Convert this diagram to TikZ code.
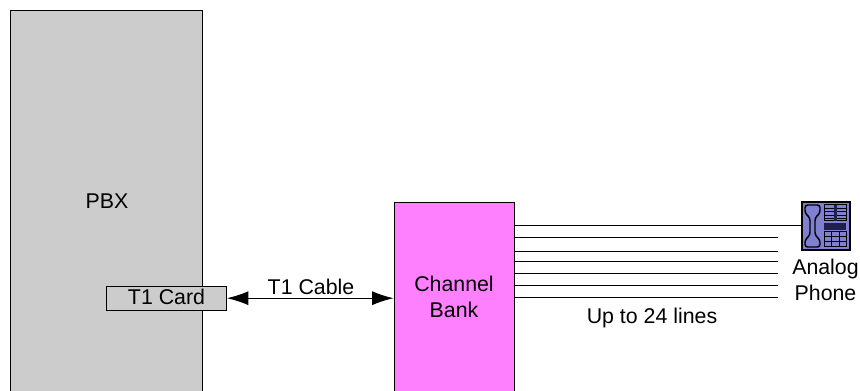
\documentclass[tikz,border=0pt]{standalone}
\usepackage{tikz}
\usepackage{xcolor}
\usepackage{fontspec}
\setmainfont{Liberation Sans}
\usetikzlibrary{arrows.meta}
\definecolor{pbxgray}{HTML}{CCCCCC}
\definecolor{bankpink}{HTML}{FF80FF}
\definecolor{phoneblue}{HTML}{8080D0}
\definecolor{banddark}{HTML}{202050}
\tikzset{
    box/.style={draw, line width=0.75pt, inner sep=0pt},
    label/.style={font=\fontsize{16}{19}\selectfont, inner sep=0pt, align=center},
    wire/.style={line width=0.75pt},
    keys/.style={line width=0.75pt}
}

\begin{document}
\begin{tikzpicture}[x=0.75pt, y=-0.75pt]
    \useasboundingbox (0,0) rectangle (860,391);
    \clip (0,0) rectangle (860,391);

    % PBX
    \node[box, fill=pbxgray, minimum width=144pt, minimum height=288pt] (pbx) at (106.5, 202.5) {};
    \node[label] (pbxlabel) at (107, 201) {PBX};
    \node[box, fill=pbxgray, minimum width=90pt, minimum height=18pt] (card) at (166.5, 298.2) {};
    \node[label] (cardlabel) at (166.5, 297) {T1 Card};

    % Channel bank
    \node[box, fill=bankpink, minimum width=90pt, minimum height=144pt] (bank) at (454, 298.5) {};
    \node[label] (banklabel) at (454, 297) {Channel\\Bank};

    % Cable
    \draw[wire, {Latex[length=16pt, width=10.5pt]}-{Latex[length=16pt, width=10.5pt]}] (card.east) -- (card.east -| bank.west);
    \node[label] (cablelabel) at (311, 287) {T1 Cable};

    % Lines out to the phone
    \node[inner sep=0pt, minimum width=35.5pt, minimum height=35.5pt, draw, line width=1.5pt, fill=phoneblue] (phone) at (826, 226) {};
    \draw[wire] (bank.east |- phone.west) -- (phone.west);
    \foreach \y in {238,252,262,274,286,298} {
        \coordinate (lineend\y) at (778, \y);
        \draw[wire] (bank.east |- lineend\y) -- (lineend\y);
    }
    \node[label] (lineslabel) at (652, 317.5) {Up to 24 lines};
    \node[label] (phonelabel) at (825.5, 280) {Analog\\Phone};

    % Phone details
    \draw[line width=1.1pt, fill=phoneblue, rounded corners=2pt]
        (805,205) -- (820,205) -- (820,213) -- (815,218) -- (815,235) -- (820,240)
        -- (820,247) -- (805,247) -- (805,240) -- (810,235) -- (810,218) -- (805,213) -- cycle;
    \draw[keys] (824,205) rectangle (846,221);
    \foreach \y in {208.5,212,215.5,218.5} {
        \draw[keys] (824,\y) -- (846,\y);
    }
    \fill[banddark] (834,205) rectangle (836.5,221);
    \fill[banddark] (824,223) rectangle (846,230);
    \draw[keys] (824,232) rectangle (846,247);
    \foreach \y in {237,242} {
        \draw[keys] (824,\y) -- (846,\y);
    }
    \foreach \x in {831,839} {
        \draw[keys] (\x,232) -- (\x,247);
    }
\end{tikzpicture}
\end{document}
